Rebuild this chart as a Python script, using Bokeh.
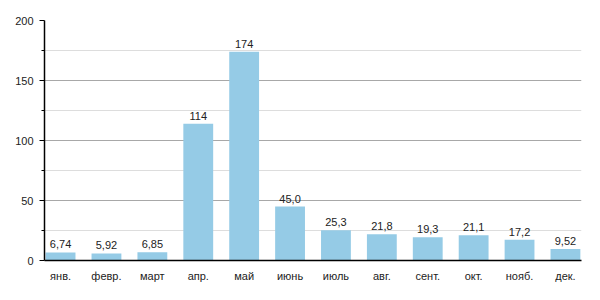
from bokeh.plotting import figure
from bokeh.models import Range1d, ColumnDataSource, FixedTicker
from bokeh.core.properties import value
from bokeh.embed import file_html
from bokeh.resources import INLINE

months = ["янв.", "февр.", "март", "апр.", "май", "июнь", "июль", "авг.", "сент.", "окт.", "нояб.", "дек."]
values = [6.74, 5.92, 6.85, 114, 174, 45.0, 25.3, 21.8, 19.3, 21.1, 17.2, 9.52]
labels = ["6,74", "5,92", "6,85", "114", "174", "45,0", "25,3", "21,8", "19,3", "21,1", "17,2", "9,52"]

xs = list(range(len(months)))
src = ColumnDataSource(dict(x=xs, top=values, lab=labels))

p = figure(width=600, height=300, output_backend="svg", toolbar_location=None,
           x_range=Range1d(-0.35, 11.35), y_range=Range1d(0, 200),
           min_border_left=44, min_border_right=19, min_border_top=20, min_border_bottom=40)
p.outline_line_color = None
p.background_fill_color = "white"

p.vbar(x="x", top="top", width=0.65, bottom=0, source=src, color="#95CBE6", line_color=None)
p.text(x="x", y="top", text="lab", source=src, text_align="center", text_baseline="bottom",
       y_offset=-4, text_font=value("Liberation Sans"), text_font_size="11px", text_color="#222222")

p.yaxis.ticker = FixedTicker(ticks=[0, 50, 100, 150, 200], minor_ticks=[25, 75, 125, 175])
p.ygrid.ticker = p.yaxis.ticker
p.ygrid.grid_line_color = "#a8a8a8"
p.ygrid.minor_grid_line_color = "#dddddd"
p.ygrid.grid_line_width = 1
p.xgrid.grid_line_color = None

p.yaxis.axis_line_color = "black"
p.yaxis.axis_line_width = 1.5
p.yaxis.major_tick_out = 5
p.yaxis.major_tick_in = 0
p.yaxis.minor_tick_out = 3
p.yaxis.minor_tick_in = 0
p.yaxis.major_tick_line_color = "black"
p.yaxis.minor_tick_line_color = "black"
p.yaxis.major_label_text_font = "Liberation Sans"
p.yaxis.major_label_text_font_size = "11px"
p.yaxis.major_label_text_color = "#222222"
p.yaxis.major_label_standoff = 6

p.xaxis.ticker = FixedTicker(ticks=xs)
p.xaxis.major_label_overrides = {i: m for i, m in enumerate(months)}
p.xaxis.axis_line_color = "black"
p.xaxis.axis_line_width = 1.5
p.xaxis.major_tick_line_color = None
p.xaxis.minor_tick_line_color = None
p.xaxis.major_label_text_font = "Liberation Sans"
p.xaxis.major_label_text_font_size = "11px"
p.xaxis.major_label_text_color = "#222222"
p.xaxis.major_label_standoff = 3

open("out.html", "w").write(file_html(p, INLINE))
